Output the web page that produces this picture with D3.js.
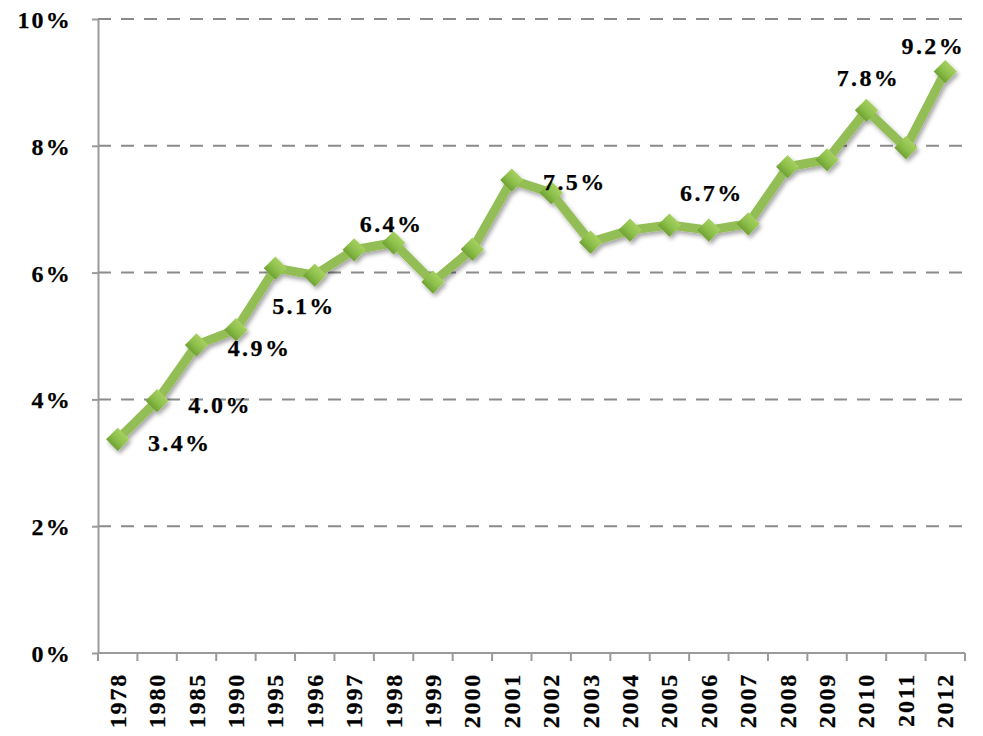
<!DOCTYPE html>
<html>
  <head>
    <meta charset="utf-8">
    <title>Share by year</title>
    <style>
      body {
        margin: 0;
        background: #fff;
      }
      text {
        font-family: "Liberation Serif", "Times New Roman", serif;
        font-weight: bold;
        fill: #000;
        stroke: #000;
        stroke-width: 0.25px;
      }
      .grid line {
        stroke: #8a8a8a;
        stroke-width: 2;
        stroke-dasharray: 13 10;
      }
      .axis path, .axis line {
        stroke: #9a9a9a;
        stroke-width: 2;
      }
    </style>
  </head>
  <body>
    <svg width="983" height="736"></svg>
    <script src="https://cdn.jsdelivr.net/npm/d3@7"></script>
    <script>
      // values (percent)
      var years = ["1978", "1980", "1985", "1990", "1995", "1996", "1997", "1998", "1999", "2000", "2001",
                   "2002", "2003", "2004", "2005", "2006", "2007", "2008", "2009", "2010", "2011", "2012"];
      var shares = [3.37, 3.98, 4.86, 5.1, 6.07, 5.96, 6.36, 6.47, 5.85, 6.37, 7.46,
                    7.26, 6.48, 6.67, 6.75, 6.67, 6.77, 7.67, 7.78, 8.56, 7.97, 9.17];
      var yTicks = [0, 2, 4, 6, 8, 10];

      // data labels: which year they sit by, and their text
      var labelYears = ["1978", "1980", "1985", "1990", "1998", "2001", "2006", "2010", "2012"];
      var labelTexts = ["3.4%", "4.0%", "4.9%", "5.1%", "6.4%", "7.5%", "6.7%", "7.8%", "9.2%"];

      var svg = d3.select("svg");
      var plotL = 98, plotR = 965, plotT = 19, plotB = 653;

      var x = d3.scaleBand().domain(years).range([plotL, plotR]).padding(0);
      var y = d3.scaleLinear().domain([0, 10]).range([plotB, plotT]);
      var cx = function(yr) { return x(yr) + x.bandwidth() / 2; };

      var defs = svg.append("defs");
      var shadow = defs.append("filter").attr("id", "shadow")
        .attr("x", "-30%").attr("y", "-30%").attr("width", "160%").attr("height", "160%");
      shadow.append("feDropShadow")
        .attr("dx", 2).attr("dy", 3).attr("stdDeviation", 2)
        .attr("flood-color", "#000").attr("flood-opacity", 0.35);
      var grad = defs.append("linearGradient").attr("id", "dia")
        .attr("x1", 0).attr("y1", 0).attr("x2", 0).attr("y2", 1);
      grad.append("stop").attr("offset", "0%").attr("stop-color", "#a6d060");
      grad.append("stop").attr("offset", "55%").attr("stop-color", "#8cbf4a");
      grad.append("stop").attr("offset", "100%").attr("stop-color", "#6fa233");

      // gridlines
      svg.append("g").attr("class", "grid")
        .selectAll("line")
        .data(yTicks.filter(function(d) { return d > 0; }))
        .join("line")
        .attr("x1", plotL).attr("x2", plotR)
        .attr("y1", function(d) { return y(d); })
        .attr("y2", function(d) { return y(d); });

      // y axis
      var yAxis = svg.append("g").attr("class", "axis")
        .attr("transform", "translate(" + plotL + ",0)")
        .call(d3.axisLeft(y).tickValues(yTicks).tickSize(6).tickSizeOuter(0)
          .tickFormat(function(d) { return d + "%"; }));
      yAxis.selectAll("text")
        .attr("x", -26)
        .attr("dy", "0.35em")
        .style("font-size", "24px")
        .style("letter-spacing", "2.2px");

      // x axis: ticks between categories
      var xg = svg.append("g").attr("class", "axis");
      xg.append("line")
        .attr("x1", plotL).attr("x2", plotR)
        .attr("y1", plotB).attr("y2", plotB);
      xg.selectAll("line.tk")
        .data(years.concat(["end"]))
        .join("line")
        .attr("class", "tk")
        .attr("x1", function(d, i) { return plotL + i * x.step(); })
        .attr("x2", function(d, i) { return plotL + i * x.step(); })
        .attr("y1", plotB).attr("y2", plotB + 8);
      xg.selectAll("text")
        .data(years)
        .join("text")
        .attr("transform", function(d) { return "translate(" + (cx(d) + 8) + "," + (plotB + 20) + ") rotate(-90)"; })
        .attr("text-anchor", "end")
        .style("font-size", "24px")
        .style("letter-spacing", "1.8px")
        .text(function(d) { return d; });

      // the series
      var pts = years.map(function(d, i) { return [cx(d), y(shares[i])]; });
      var plot = svg.append("g").attr("filter", "url(#shadow)");
      plot.append("path")
        .attr("d", d3.line()(pts))
        .attr("fill", "none")
        .attr("stroke", "#93bd55")
        .attr("stroke-width", 9)
        .attr("stroke-linejoin", "round");
      plot.selectAll("path.mk")
        .data(pts)
        .join("path")
        .attr("class", "mk")
        .attr("transform", function(d) { return "translate(" + d[0] + "," + d[1] + ") rotate(45)"; })
        .attr("d", d3.symbol(d3.symbolSquare, 270))
        .attr("fill", "url(#dia)");

      // data labels, offset from their points
      var labelOffsets = [[62, 3], [63, 4], [63, 3], [68, -24], [-2, -19], [63, 2], [3, -38], [2, -33], [-12, -26]];
      svg.append("g")
        .selectAll("text")
        .data(labelYears)
        .join("text")
        .attr("x", function(d, i) { return cx(d) + labelOffsets[i][0]; })
        .attr("y", function(d, i) { return y(shares[years.indexOf(d)]) + labelOffsets[i][1]; })
        .attr("dy", "0.35em")
        .attr("text-anchor", "middle")
        .style("font-size", "24px")
        .style("letter-spacing", "2.4px")
        .text(function(d, i) { return labelTexts[i]; });
    </script>
  </body>
</html>
